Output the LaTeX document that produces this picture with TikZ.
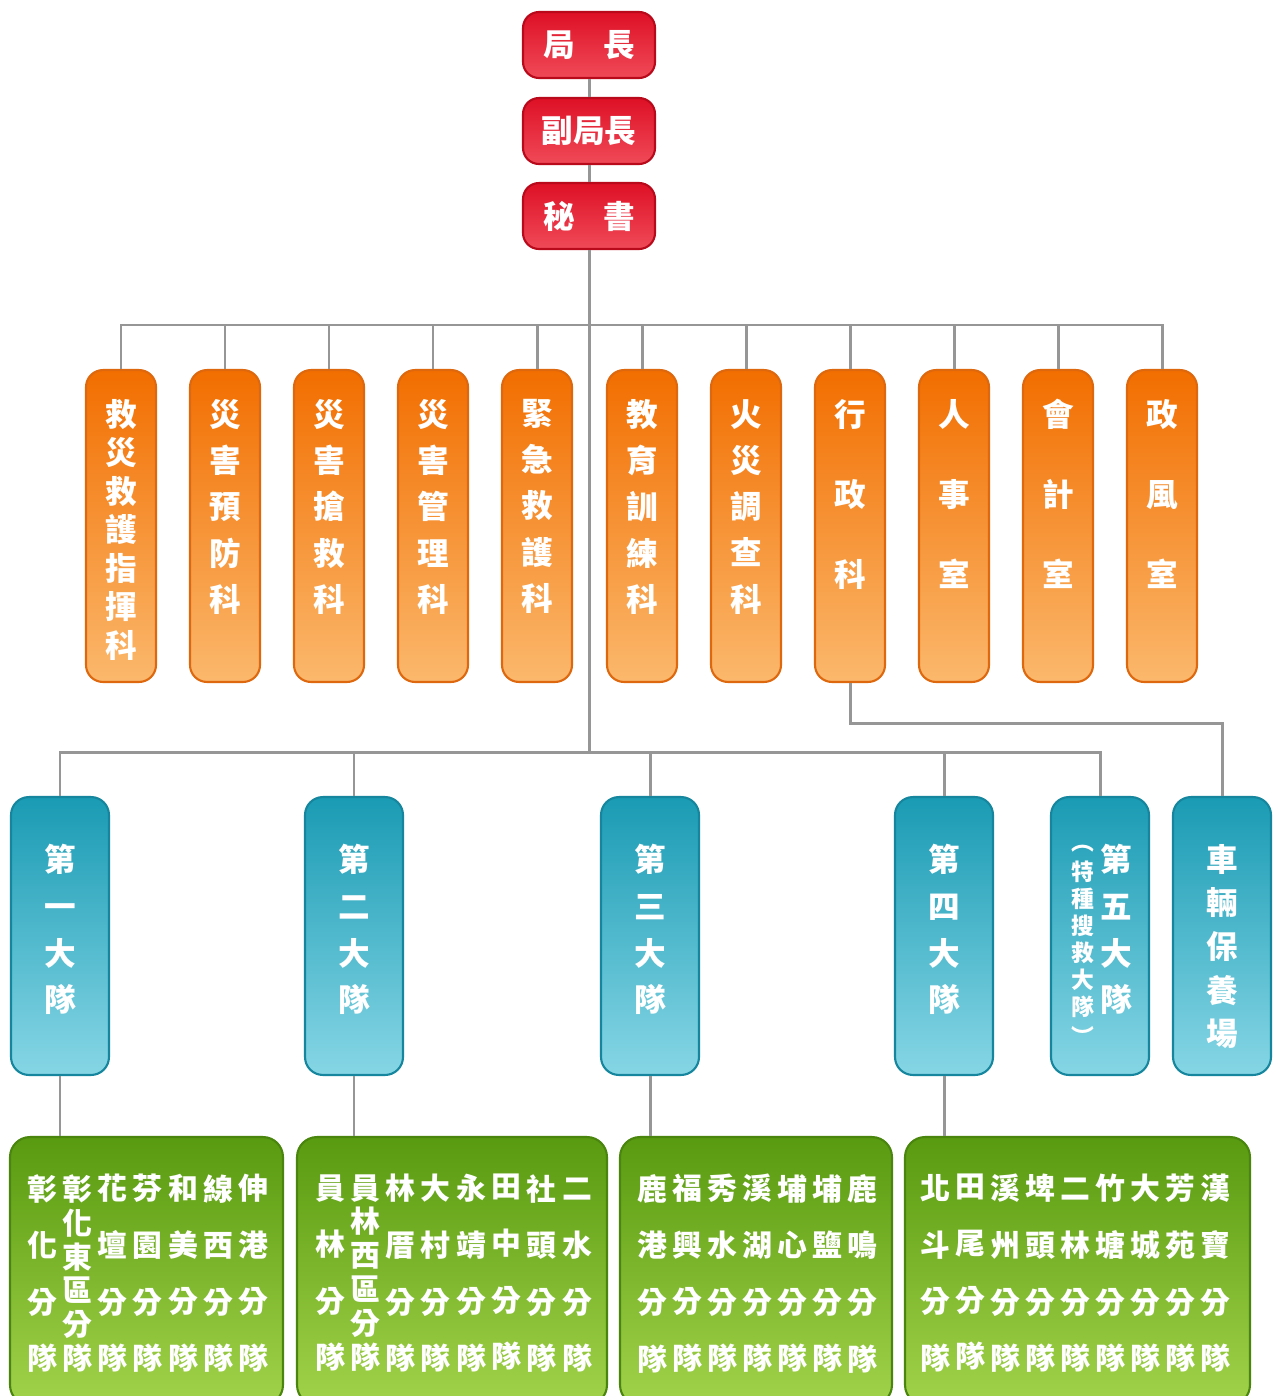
\documentclass[tikz,border=0pt]{standalone}
\usepackage{fontspec}
\setmainfont{Noto Sans CJK TC}
\usepackage{tikz}

\definecolor{redtop}{RGB}{222,16,38}
\definecolor{redbot}{RGB}{240,74,88}
\definecolor{redline}{RGB}{185,10,28}
\definecolor{orgtop}{RGB}{242,110,0}
\definecolor{orgbot}{RGB}{251,184,108}
\definecolor{orgline}{RGB}{222,104,14}
\definecolor{blutop}{RGB}{26,155,180}
\definecolor{blubot}{RGB}{134,214,229}
\definecolor{bluline}{RGB}{22,134,158}
\definecolor{grntop}{RGB}{88,154,16}
\definecolor{grnbot}{RGB}{162,211,74}
\definecolor{grnline}{RGB}{74,134,14}
\definecolor{conn}{RGB}{150,150,150}

\begin{document}
\begin{tikzpicture}[x=0.02cm, y=-0.02cm,
    line/.style={draw=conn, line width=1.7pt},
    redbox/.style={draw=redline, line width=1.2pt, rounded corners=0.32cm, top color=redtop, bottom color=redbot,
        minimum width=2.64cm, minimum height=1.32cm, inner sep=0pt, text=white, font=\fontsize{18}{22}\selectfont\bfseries},
    orgbox/.style={draw=orgline, line width=1.2pt, rounded corners=0.34cm, top color=orgtop, bottom color=orgbot,
        minimum width=1.4cm, minimum height=6.24cm, inner sep=0pt},
    blubox/.style={draw=bluline, line width=1.2pt, rounded corners=0.36cm, top color=blutop, bottom color=blubot,
        minimum width=1.96cm, minimum height=5.56cm, inner sep=0pt},
    grnbox/.style={draw=grnline, line width=1.2pt, rounded corners=0.4cm, top color=grntop, bottom color=grnbot,
        minimum height=5.36cm, inner sep=0pt},
    wtxt/.style={text=white, inner sep=0pt, align=center, anchor=north},
    col7/.style={wtxt, font=\fontsize{18}{21.9}\selectfont\bfseries},
    col5/.style={wtxt, font=\fontsize{18}{26.3}\selectfont\bfseries},
    col3/.style={wtxt, font=\fontsize{18}{45.5}\selectfont\bfseries},
    bcol/.style={wtxt, font=\fontsize{18}{26.6}\selectfont\bfseries},
    gcol/.style={wtxt, font=\fontsize{17}{32.2}\selectfont\bfseries},
    gcolsix/.style={wtxt, font=\fontsize{17}{19.3}\selectfont\bfseries},
]
\useasboundingbox[fill=white] (0,0) rectangle (1275,1396);
\clip (0,0) rectangle (1275,1396);

% head
\node[redbox] (ju) at (589,45) {局\hspace{0.9em}長};
\node[redbox] (fu) at (589,131) {副局長};
\node[redbox] (ms) at (589,216) {秘\hspace{0.9em}書};

% sections
\node[orgbox] (k1) at (121,526) {};
\node[col7] at (121,399) {救\\災\\救\\護\\指\\揮\\科};
\node[orgbox] (k2) at (225,526) {};
\node[col5] at (225,399) {災\\害\\預\\防\\科};
\node[orgbox] (k3) at (329,526) {};
\node[col5] at (329,399) {災\\害\\搶\\救\\科};
\node[orgbox] (k4) at (433,526) {};
\node[col5] at (433,399) {災\\害\\管\\理\\科};
\node[orgbox] (k5) at (537,526) {};
\node[col5] at (537,399) {緊\\急\\救\\護\\科};
\node[orgbox] (k6) at (642,526) {};
\node[col5] at (642,399) {教\\育\\訓\\練\\科};
\node[orgbox] (k7) at (746,526) {};
\node[col5] at (746,399) {火\\災\\調\\查\\科};
\node[orgbox] (k8) at (850,526) {};
\node[col3] at (850,399) {行\\政\\科};
\node[orgbox] (k9) at (954,526) {};
\node[col3] at (954,399) {人\\事\\室};
\node[orgbox] (k10) at (1058,526) {};
\node[col3] at (1058,399) {會\\計\\室};
\node[orgbox] (k11) at (1162,526) {};
\node[col3] at (1162,399) {政\\風\\室};

% brigades
\node[blubox] (d1) at (60,936) {};
\node[bcol] at (60,844) {第\\一\\大\\隊};
\node[blubox] (d2) at (354,936) {};
\node[bcol] at (354,844) {第\\二\\大\\隊};
\node[blubox] (d3) at (650,936) {};
\node[bcol] at (650,844) {第\\三\\大\\隊};
\node[blubox] (d4) at (944,936) {};
\node[bcol] at (944,844) {第\\四\\大\\隊};
\node[blubox] (d5) at (1100,936) {};
\node[bcol] at (1116,844) {第\\五\\大\\隊};
\foreach \c/\y in {︵/849, 特/872, 種/899, 搜/926, 救/953, 大/980, 隊/1007, ︶/1036}
    \node[text=white, inner sep=0pt, font=\fontsize{13}{15}\selectfont\bfseries] at (1083,\y) {\c};
\node[blubox] (car) at (1222,936) {};
\node[wtxt, font=\fontsize{18}{24.8}\selectfont\bfseries] at (1222,844) {車\\輛\\保\\養\\場};

% squads
\node[grnbox, minimum width=5.46cm] (g1) at (146.5,1271) {};
\node[grnbox, minimum width=6.2cm] (g2) at (452,1271) {};
\node[grnbox, minimum width=5.44cm] (g3) at (756,1271) {};
\node[grnbox, minimum width=6.9cm] (g4) at (1077.5,1271) {};

\foreach \x/\t in {42/彰\\化\\分\\隊, 112.6/花\\壇\\分\\隊, 147.9/芬\\園\\分\\隊,
    183.2/和\\美\\分\\隊, 218.5/線\\西\\分\\隊, 253.8/伸\\港\\分\\隊}
    \node[gcol] at (\x,1174) {\t};
\node[gcolsix] at (77.3,1174) {彰\\化\\東\\區\\分\\隊};

\foreach \x/\t in {330/員\\林\\分\\隊, 400.6/林\\厝\\分\\隊, 435.9/大\\村\\分\\隊, 471.2/永\\靖\\分\\隊,
    506.5/田\\中\\分\\隊, 541.8/社\\頭\\分\\隊, 577.1/\vphantom{隊}二\\水\\分\\隊}
    \node[gcol] at (\x,1174) {\t};
\node[gcolsix] at (365.3,1174) {員\\林\\西\\區\\分\\隊};

\foreach \x/\t in {652/鹿\\港\\分\\隊, 687/福\\興\\分\\隊, 722/秀\\水\\分\\隊, 757/溪\\湖\\分\\隊,
    792/埔\\心\\分\\隊, 827/埔\\鹽\\分\\隊, 862/鹿\\鳴\\分\\隊}
    \node[gcol] at (\x,1174) {\t};

\foreach \x/\t in {935/北\\斗\\分\\隊, 970/田\\尾\\分\\隊, 1005/溪\\州\\分\\隊, 1040/埤\\頭\\分\\隊,
    1075/\vphantom{隊}二\\林\\分\\隊, 1110/竹\\塘\\分\\隊, 1145/大\\城\\分\\隊, 1180/芳\\苑\\分\\隊, 1215/漢\\寶\\分\\隊}
    \node[gcol] at (\x,1174) {\t};

% connectors
\coordinate (top) at (589,325);
\coordinate (mid) at (589,752);
\draw[line] (ju) -- (fu);
\draw[line] (fu) -- (ms);
\draw[line] (ms) -- (mid);
\draw[line] (k1.north) -- (k1.north |- top) -- (k11.north |- top) -- (k11.north);
\foreach \n in {k2,k3,k4,k5,k6,k7,k8,k9,k10}
    \draw[line] (\n.north) -- (\n.north |- top);
\draw[line] (k8.south) -- ++(0,40) -| (car.north);
\draw[line] (d1.north) -- (d1.north |- mid) -- (d5.north |- mid) -- (d5.north);
\foreach \n in {d2,d3,d4}
    \draw[line] (\n.north) -- (\n.north |- mid);
\foreach \n/\m in {d1/g1,d2/g2,d3/g3,d4/g4}
    \draw[line] (\n.south) -- (\n.south |- \m.north);
\end{tikzpicture}
\end{document}
